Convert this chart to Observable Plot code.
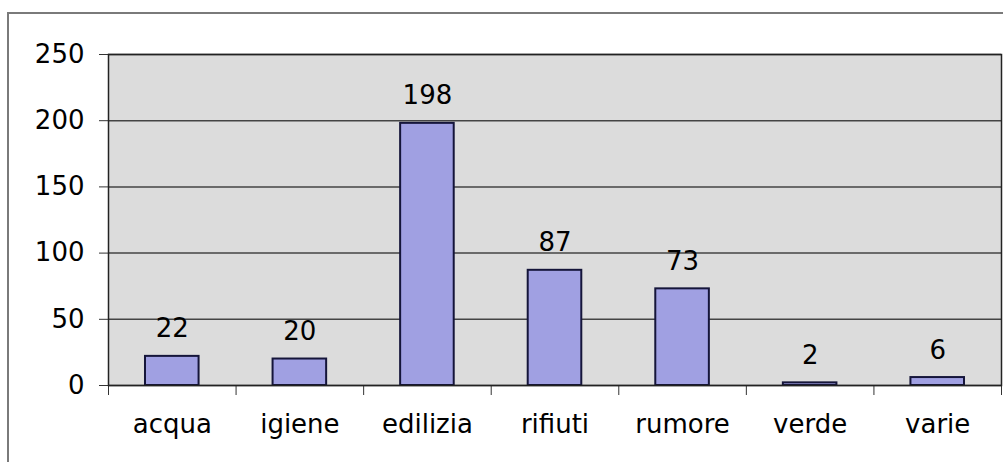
<!DOCTYPE html>
<html>
<head>
<meta charset="utf-8">
<script src="https://cdn.jsdelivr.net/npm/d3@7"></script>
<script src="https://cdn.jsdelivr.net/npm/@observablehq/plot@0.6"></script>
<style>
  html, body { margin: 0; padding: 0; background: #fff; }
  #wrap { position: relative; width: 1003px; height: 462px; overflow: hidden; }
  #border { position: absolute; left: 7px; top: 12px; width: 1100px; height: 500px;
            border-top: 2px solid #7a7a7a; border-left: 2px solid #7a7a7a; }
  #chart { position: absolute; left: 0; top: 0; }
</style>
</head>
<body>
<div id="wrap"><div id="border"></div><div id="chart"></div></div>
<script>
const categories = ["acqua", "igiene", "edilizia", "rifiuti", "rumore", "verde", "varie"];
const values = [22, 20, 198, 87, 73, 2, 6];
const yTicks = [0, 50, 100, 150, 200, 250];

const data = categories.map((c, i) => ({cat: c, i, value: values[i]}));
const font = "DejaVu Sans, Liberation Sans, Arial, sans-serif";

const chart = Plot.plot({
  width: 1003,
  height: 462,
  marginLeft: 108,
  marginRight: 2,
  marginTop: 54,
  marginBottom: 77,
  style: {fontFamily: font, fontSize: "26px", background: "transparent", color: "#000"},
  x: {domain: [0, categories.length]},
  y: {domain: [0, 250]},
  marks: [
    Plot.frame({fill: "#dcdcdc", stroke: "none"}),
    Plot.gridY(yTicks, {stroke: "#444", strokeOpacity: 1, strokeWidth: 1.5}),
    Plot.rectY(data, {
      x1: d => d.i + 0.29, x2: d => d.i + 0.71, y: "value",
      fill: "#a0a0e2", stroke: "#15153a", strokeWidth: 2
    }),
    Plot.text(data, {
      x: d => d.i + 0.5, y: "value", text: d => String(d.value),
      lineAnchor: "bottom", dy: -19, fontSize: 26, fill: "#000"
    }),
    Plot.axisY({ticks: yTicks, tickSize: 9, tickPadding: 15, label: null, stroke: "#333", fontSize: 26}),
    Plot.axisX({ticks: d3.range(categories.length + 1), tickSize: 10, tickFormat: () => "", label: null, stroke: "#333"}),
    Plot.axisX({
      ticks: categories.map((c, i) => i + 0.5), tickSize: 0, tickPadding: 29,
      tickFormat: v => categories[Math.floor(v)], label: null, fontSize: 26
    }),
    Plot.frame({stroke: "#222", strokeWidth: 1.5})
  ]
});
document.getElementById("chart").appendChild(chart);
</script>
</body>
</html>
